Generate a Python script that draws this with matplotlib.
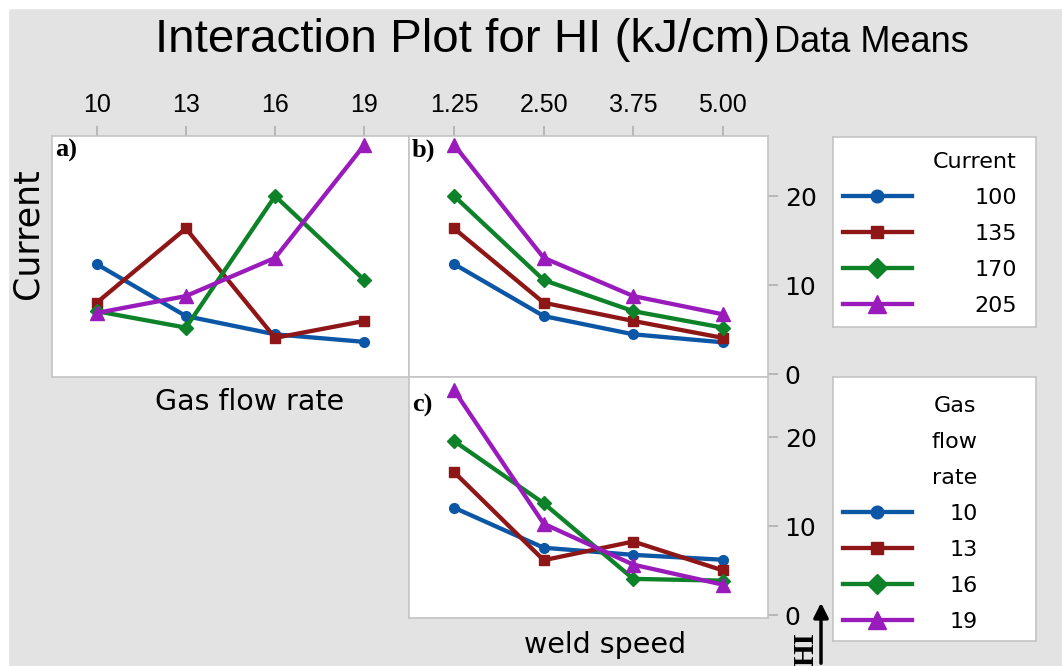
import matplotlib
matplotlib.use("Agg")
import matplotlib.pyplot as plt
from matplotlib.patches import Rectangle

# factor levels
gas_flow = [10, 13, 16, 19]
weld_speed = [1.25, 2.50, 3.75, 5.00]
weld_labels = ["1.25", "2.50", "3.75", "5.00"]
current_levels = ["100", "135", "170", "205"]
gas_levels = ["10", "13", "16", "19"]

# a) HI vs gas flow rate, one line per current
hi_a_100 = [12.4, 6.55, 4.5, 3.65]
hi_a_135 = [8.05, 16.4, 4.1, 6.0]
hi_a_170 = [7.1, 5.25, 20.05, 10.6]
hi_a_205 = [6.9, 8.8, 13.1, 25.8]

# b) HI vs weld speed, one line per current
hi_b_100 = [12.4, 6.55, 4.5, 3.6]
hi_b_135 = [16.4, 8.05, 6.0, 4.1]
hi_b_170 = [20.05, 10.6, 7.1, 5.25]
hi_b_205 = [25.8, 13.1, 8.8, 6.75]

# c) HI vs weld speed, one line per gas flow rate
hi_c_10 = [12.1, 7.6, 6.8, 6.25]
hi_c_13 = [16.1, 6.2, 8.3, 5.05]
hi_c_16 = [19.6, 12.6, 4.1, 3.9]
hi_c_19 = [25.3, 10.3, 5.7, 3.45]

colors = ["#0b57a6", "#8e1616", "#0d8229", "#9a1bbb"]
markers = ["o", "s", "D", "^"]
msizes = [7, 7, 7.5, 10.5]

narrow = ["Liberation Sans", "DejaVu Sans"]
grey = "#c4c4c4"
W, H = 1062, 666


def px(l, t, r, b):
    return [l / W, 1 - b / H, (r - l) / W, (b - t) / H]


def style(ax):
    ax.set_facecolor("white")
    for s in ax.spines.values():
        s.set_color(grey)
        s.set_linewidth(1.2)
    ax.set_ylim(-0.3, 26.8)
    ax.tick_params(color="#b0b0b0", length=7, width=1.2)


def draw(ax, x, series):
    lines = []
    for ys, c, m, ms in zip(series, colors, markers, msizes):
        ln, = ax.plot(x, ys, color=c, marker=m, ms=ms, mec=c, lw=3.1)
        lines.append(ln)
    return lines


fig = plt.figure(figsize=(W / 100, H / 100), dpi=100, facecolor="#e3e3e3")
fig.patches.append(Rectangle((0, 1 - 8 / H), 1, 8 / H, transform=fig.transFigure,
                             color="white", zorder=0))
fig.patches.append(Rectangle((0, 0), 8 / W, 1, transform=fig.transFigure,
                             color="white", zorder=0))

axa = fig.add_axes(px(52, 136, 409, 377))
axb = fig.add_axes(px(409, 136, 768, 377))
axc = fig.add_axes(px(409, 377, 768, 618))

draw(axa, gas_flow, [hi_a_100, hi_a_135, hi_a_170, hi_a_205])
cur_lines = draw(axb, weld_speed, [hi_b_100, hi_b_135, hi_b_170, hi_b_205])
gas_lines = draw(axc, weld_speed, [hi_c_10, hi_c_13, hi_c_16, hi_c_19])

for ax in (axa, axb, axc):
    style(ax)

axa.set_xlim(8.5, 20.5)
axa.xaxis.tick_top()
axa.set_xticks(gas_flow)
axa.set_yticks([])

axb.set_xlim(0.62, 5.63)
axb.xaxis.tick_top()
axb.set_xticks(weld_speed)
axb.set_xticklabels(weld_labels)

for ax in (axa, axb):
    ax.tick_params(axis="x", labelsize=18, pad=7)
    for t in ax.get_xticklabels():
        t.set_family(narrow)

axc.set_xlim(0.62, 5.63)
axc.set_xticks([])

for ax in (axb, axc):
    ax.yaxis.tick_right()
    ax.set_yticks([0, 10, 20])
    ax.tick_params(axis="y", labelsize=18, pad=5)

for ax, lab, dy in ((axa, "a)", 3), (axb, "b)", 3), (axc, "c)", 17)):
    ax.text(3 / 357, 1 - dy / 241, lab, transform=ax.transAxes, ha="left", va="top",
            fontsize=19, fontweight="bold", family="Liberation Serif")

# titles and axis names
fig.text(155 / W, 1 - 40 / H, "Interaction Plot for HI (kJ/cm)", ha="left", va="center",
         fontsize=34.2, family=narrow)
fig.text(774 / W, 1 - 43 / H, "Data Means", ha="left", va="center",
         fontsize=26, family=narrow)
fig.text(28 / W, 1 - 234 / H, "Current", rotation=90, ha="center", va="center", fontsize=25)
fig.text(250 / W, 1 - 402 / H, "Gas flow rate", ha="center", va="center", fontsize=20.5)
fig.text(605 / W, 1 - 645 / H, "weld speed", ha="center", va="center", fontsize=20.5)

# HI arrow
fig.text(806 / W, 1 - 649 / H, "HI", rotation=90, ha="center", va="center",
         fontsize=21, fontweight="bold", family="Liberation Serif")
axc.annotate("", xy=(821 / W, 1 - 600 / H), xytext=(821 / W, 0),
             xycoords="figure fraction", textcoords="figure fraction",
             annotation_clip=False,
             arrowprops=dict(arrowstyle="-|>", lw=2.5, color="black", mutation_scale=22))

# legend boxes
leg1_ax = fig.add_axes(px(833, 137, 1036, 327))
leg2_ax = fig.add_axes(px(833, 377, 1036, 641))
for lax in (leg1_ax, leg2_ax):
    lax.set_xticks([])
    lax.set_yticks([])
    lax.set_facecolor("white")
    for s in lax.spines.values():
        s.set_color(grey)
        s.set_linewidth(1.2)

leg1 = leg1_ax.legend(cur_lines, current_levels, title="Current", loc="upper left",
                      bbox_to_anchor=(10 / 203, 1 - 15 / 190), frameon=False,
                      fontsize=16, title_fontsize=16, handlelength=3.1,
                      handletextpad=2.8, borderaxespad=0, borderpad=0,
                      labelspacing=0.72, alignment="right", markerscale=1.3)

leg2 = leg2_ax.legend(gas_lines, gas_levels, title="Gas\nflow\nrate", loc="upper left",
                      bbox_to_anchor=(10 / 203, 1 - 19 / 264), frameon=False,
                      fontsize=16, title_fontsize=16, handlelength=3.1,
                      handletextpad=1.68, borderaxespad=0, borderpad=0,
                      labelspacing=0.72, alignment="right", markerscale=1.3)
leg2.get_title().set_multialignment("center")
leg2.get_title().set_linespacing(2.0)

fig.savefig("out.png", dpi=100, facecolor=fig.get_facecolor())
